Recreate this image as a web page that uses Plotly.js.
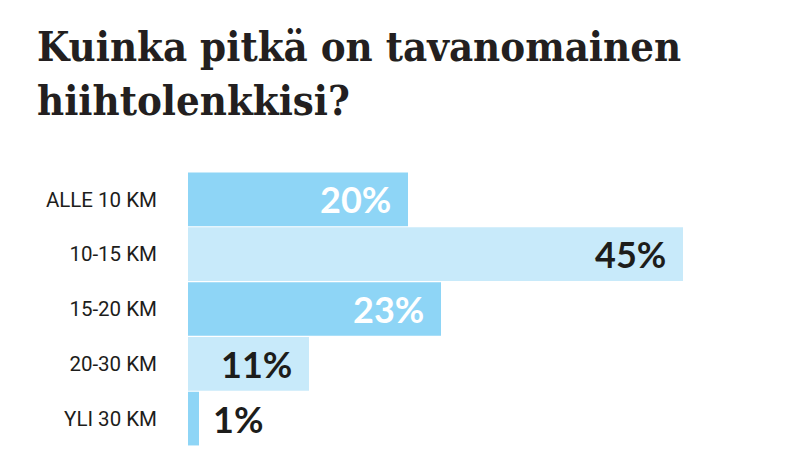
<!DOCTYPE html>
<html>
<head>
<meta charset="utf-8">
<script src="https://cdn.plot.ly/plotly-3.0.1.min.js"></script>
<style>html,body{margin:0;padding:0;background:#fff}#chart{width:800px;height:454px}</style>
</head>
<body>
<div id="chart"></div>
<script>
const categories = ["ALLE 10 KM", "10-15 KM", "15-20 KM", "20-30 KM", "YLI 30 KM"];
const values = [20, 45, 23, 11, 1];
const valueLabels = ["20%", "45%", "23%", "11%", "1%"];
const barColors = ["#8ED5F6", "#C8EAFA", "#8ED5F6", "#C8EAFA", "#8ED5F6"];
const labelColors = ["#ffffff", "#1d1d1b", "#ffffff", "#1d1d1b", "#1d1d1b"];

const trace = {
  type: "bar",
  orientation: "h",
  x: values,
  y: categories,
  marker: {color: barColors, line: {width: 0}},
  hoverinfo: "none"
};

const annotations = values.map((v, i) => {
  const inside = v >= 5;
  return {
    x: v, y: categories[i], xref: "x", yref: "y",
    text: valueLabels[i],
    showarrow: false,
    xanchor: inside ? "right" : "left",
    xshift: inside ? -15 : 12,
    yanchor: "middle",
    font: {family: "Lato", size: 36, weight: 700, color: labelColors[i]}
  };
});

const layout = {
  width: 800, height: 454,
  margin: {l: 188, r: 0, t: 172, b: 8},
  paper_bgcolor: "#ffffff", plot_bgcolor: "#ffffff",
  showlegend: false,
  bargap: 0.02,
  title: {
    text: "Kuinka pitkä on tavanomainen<br>hiihtolenkkisi?",
    x: 37/800, xref: "container", xanchor: "left",
    y: 1 - 61/454, yref: "container", yanchor: "top",
    font: {family: "DejaVu Serif Condensed", size: 41.5, weight: 700, color: "#231f20"}
  },
  xaxis: {range: [0, 612/11], visible: false, fixedrange: true},
  yaxis: {
    autorange: "reversed",
    showgrid: false, zeroline: false, showline: false, ticks: "",
    ticklabelstandoff: 30,
    tickfont: {family: "Roboto", size: 20.5, color: "#1d1d1b"}
  },
  annotations: annotations
};

Plotly.newPlot("chart", [trace], layout, {displayModeBar: false, staticPlot: true});
</script>
</body>
</html>
